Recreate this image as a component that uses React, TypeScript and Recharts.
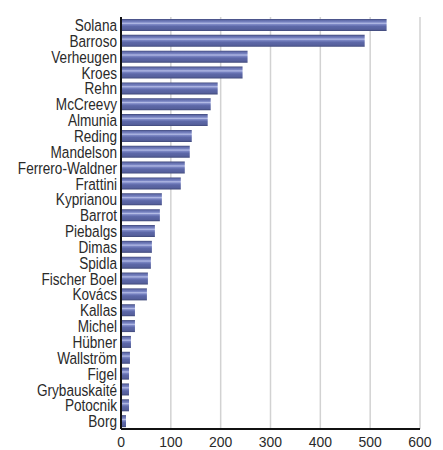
import React from "react";
import { BarChart, Bar, XAxis, YAxis, CartesianGrid } from "recharts";

const commissioners = [
  "Solana", "Barroso", "Verheugen", "Kroes", "Rehn", "McCreevy", "Almunia",
  "Reding", "Mandelson", "Ferrero-Waldner", "Frattini", "Kyprianou", "Barrot",
  "Piebalgs", "Dimas", "Spidla", "Fischer Boel", "Kovács", "Kallas", "Michel",
  "Hübner", "Wallström", "Figel", "Grybauskaité", "Potocnik", "Borg",
];

const mentions = [
  533, 489, 254, 244, 194, 180, 174, 142, 138, 128, 120, 82, 78, 68, 62, 60,
  54, 52, 28, 28, 20, 18, 16, 16, 16, 10,
];

const xTicks = [0, 100, 200, 300, 400, 500, 600];

const data = commissioners.map((name, i) => ({ name, value: mentions[i] }));

const FONT = "'Liberation Sans', Arial, sans-serif";

const NameTick = (props: any) => {
  const { x, y, payload } = props;
  return (
    <g transform={`translate(${x},${y})`}>
      <text
        transform="scale(0.8,1)"
        textAnchor="end"
        dy="0.36em"
        fontFamily={FONT}
        fontSize={17}
        fill="#2a2a2a"
      >
        {payload.value}
      </text>
    </g>
  );
};

const ValueTick = (props: any) => {
  const { x, y, payload } = props;
  return (
    <g transform={`translate(${x},${y})`}>
      <text
        transform="scale(0.9,1)"
        textAnchor="middle"
        dy="0.71em"
        fontFamily={FONT}
        fontSize={15.5}
        fill="#2a2a2a"
      >
        {payload.value}
      </text>
    </g>
  );
};

export default function App() {
  return (
    <BarChart
      width={435}
      height={442}
      data={data}
      layout="vertical"
      margin={{ top: 9, right: 23, bottom: 0, left: 0 }}
      barSize={12}
    >
      <defs>
        <linearGradient id="barFill" x1="0" y1="0" x2="0" y2="1">
          <stop offset="0%" stopColor="#3e4677" />
          <stop offset="10%" stopColor="#5f6aa8" />
          <stop offset="26%" stopColor="#7b86c4" />
          <stop offset="36%" stopColor="#b4bce6" />
          <stop offset="46%" stopColor="#7b86c4" />
          <stop offset="62%" stopColor="#5d68a8" />
          <stop offset="86%" stopColor="#56609c" />
          <stop offset="100%" stopColor="#3f4878" />
        </linearGradient>
      </defs>
      <CartesianGrid horizontal={false} stroke="#d2d2d2" strokeWidth={1.5} />
      <XAxis
        type="number"
        domain={[0, 600]}
        ticks={xTicks}
        height={21}
        tickLine={false}
        tickSize={0}
        tickMargin={7}
        axisLine={{ stroke: "#111", strokeWidth: 2 }}
        tick={<ValueTick />}
        interval={0}
      />
      <YAxis
        type="category"
        dataKey="name"
        width={113}
        tickLine={false}
        tickSize={0}
        tickMargin={4}
        axisLine={{ stroke: "#111", strokeWidth: 2 }}
        tick={<NameTick />}
        interval={0}
      />
      <Bar dataKey="value" fill="url(#barFill)" isAnimationActive={false} />
    </BarChart>
  );
}
